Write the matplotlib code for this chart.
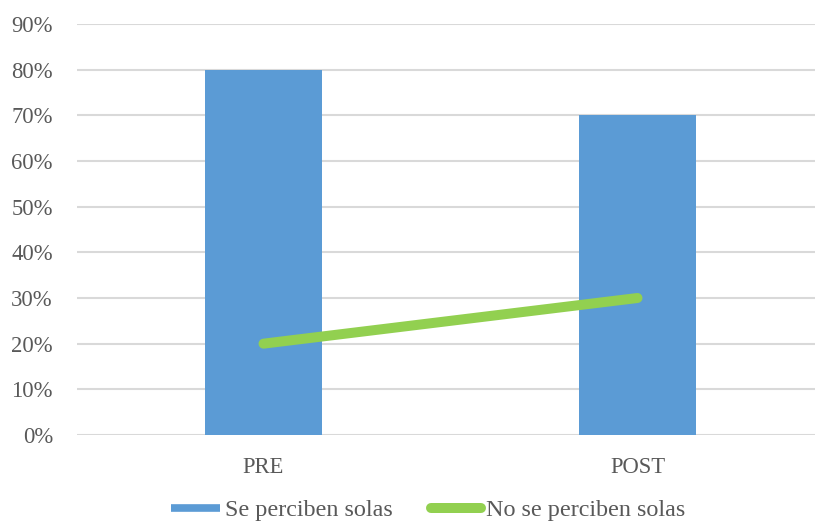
import matplotlib.pyplot as plt
from matplotlib.lines import Line2D
from matplotlib.ticker import PercentFormatter

# Data
categories = ['PRE', 'POST']
se_perciben = [0.80, 0.70]
no_se_perciben = [0.20, 0.30]
yticks = [0, 0.1, 0.2, 0.3, 0.4, 0.5, 0.6, 0.7, 0.8, 0.9]

blue = '#5B9BD5'
green = '#92D050'
text_color = '#595959'

plt.rcParams['font.family'] = ['Liberation Serif', 'DejaVu Serif']

fig = plt.figure(figsize=(8.15, 5.24), dpi=100)
# axes runs a bit past the right edge, like the cropped original
ax = fig.add_axes([76.5 / 815, 89 / 524, 748 / 815, 411 / 524])

x = range(len(categories))
ax.bar(x, se_perciben, width=0.313, color=blue, zorder=2)
ax.plot(x, no_se_perciben, color=green, linewidth=7.2,
        solid_capstyle='round', zorder=3)

ax.set_xlim(-0.5, 1.5)
ax.set_ylim(0, 0.9)
ax.set_yticks(yticks)
ax.yaxis.set_major_formatter(PercentFormatter(1.0, decimals=0))
ax.set_xticks(list(x))
ax.set_xticklabels(categories)

ax.grid(axis='y', color='#D9D9D9', linewidth=1.5, zorder=0)
ax.set_axisbelow(True)
for s in ax.spines.values():
    s.set_visible(False)
ax.tick_params(axis='both', length=0, labelsize=16.3, colors=text_color)
ax.tick_params(axis='y', pad=17)
ax.tick_params(axis='x', pad=16)

handles = [
    Line2D([0], [0], color=blue, linewidth=5.5, solid_capstyle='butt'),
    Line2D([0], [0], color=green, linewidth=7.2, solid_capstyle='round'),
]
# legend kept just inside the bottom edge so its text is not clipped
fig.legend(handles, ['Se perciben solas', 'No se perciben solas'],
           loc='center', bbox_to_anchor=(0.525, 0.026), ncol=2,
           frameon=False, fontsize=17.4, labelcolor=text_color,
           handlelength=2.05, handletextpad=0.2, columnspacing=1.6)

fig.savefig('out.png', dpi=100)
